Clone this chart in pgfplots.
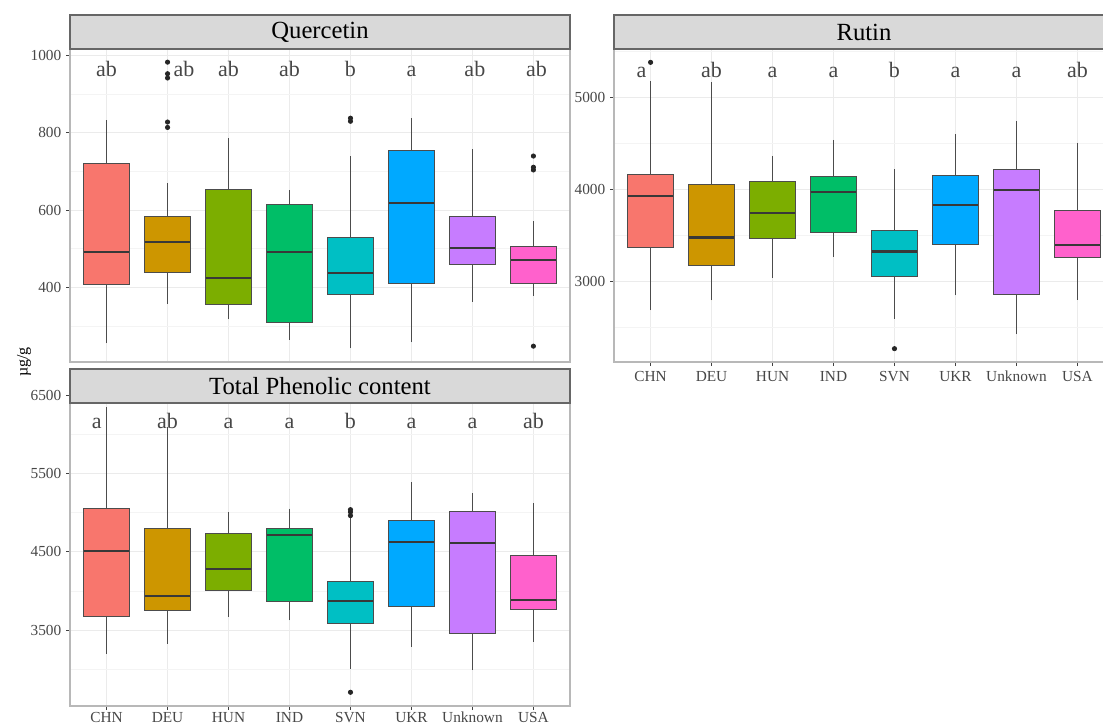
\documentclass[border=0pt]{standalone}
\usepackage{fontspec}
\setmainfont{Liberation Serif}
\usepackage{pgfplots}
\pgfplotsset{compat=1.18}
\usepgfplotslibrary{statistics}
\definecolor{c1}{HTML}{F8766D}
\definecolor{c2}{HTML}{CD9600}
\definecolor{c3}{HTML}{7CAE00}
\definecolor{c4}{HTML}{00BE67}
\definecolor{c5}{HTML}{00BFC4}
\definecolor{c6}{HTML}{00A9FF}
\definecolor{c7}{HTML}{C77CFF}
\definecolor{c8}{HTML}{FF61CC}
\definecolor{gridmaj}{HTML}{EBEBEB}
\definecolor{gridmin}{HTML}{F4F4F4}
\tikzset{lt/.style={font=\fontsize{16.5}{18}\selectfont, text=black!72, anchor=base}}
\pgfplotsset{
  facet/.style={
    scale only axis, width=375pt,
    xmin=0.4, xmax=8.6,
    xtick={1,2,3,4,5,6,7,8},
    xmajorgrids, ymajorgrids, yminorgrids,
    major grid style={draw=gridmaj, line width=0.8pt},
    minor grid style={draw=gridmin, line width=0.5pt},
    minor tick length=0pt,
    axis line style={draw=black!28, line width=0.8pt},
    tick align=outside, tick pos=left, major tick length=3pt,
    every tick/.style={draw=black!75, line width=0.6pt},
    tick label style={font=\fontsize{11.5}{13}\selectfont, text=black!72},
    xticklabel style={text height=8pt, text depth=0pt},
    /pgf/number format/1000 sep={}, /pgf/number format/assume math mode=true,
    scaled y ticks=false,
    every axis title/.style={at={(0.5,1)}, anchor=south, fill=black!15, draw=black!60,
      line width=0.8pt, minimum width=375pt, minimum height=25.5pt, inner sep=0pt,
      outer sep=0pt, font=\fontsize{18.5}{20}\selectfont, text=black},
    boxplot/draw direction=y,
    boxplot/box extend=0.75, boxplot/whisker extend=0,
    boxplot/every median/.style={line width=1.6pt, draw=black!78},
    boxplot/every whisker/.style={draw=black!70, line width=0.6pt},
  },
  bx/.style={fill=#1, draw=black!70, line width=0.6pt, mark=*, mark size=1.6pt,
    mark options={fill=black!85, draw=black!85, solid}},
}
\begin{document}
\begin{tikzpicture}
% Quercetin
\begin{axis}[facet, at={(52.5pt,-271.5pt)}, anchor=south west, height=234.75pt,
  ymin=207, ymax=1017, ytick={400,600,800,1000}, minor ytick={300,500,700,900},
  xticklabels={}, xtick style={draw=none}, title={Quercetin}]
\addplot[bx=c1, boxplot prepared={draw position=1, lower whisker=255, lower quartile=409, median=491, upper quartile=720, upper whisker=832}] coordinates {};
\addplot[bx=c2, boxplot prepared={draw position=2, lower whisker=357, lower quartile=440, median=517, upper quartile=583, upper whisker=670}] coordinates {(0,983) (0,953) (0,942) (0,828) (0,814)};
\addplot[bx=c3, boxplot prepared={draw position=3, lower whisker=317, lower quartile=357, median=424, upper quartile=654, upper whisker=786}] coordinates {};
\addplot[bx=c4, boxplot prepared={draw position=4, lower whisker=264, lower quartile=309, median=491, upper quartile=616, upper whisker=652}] coordinates {};
\addplot[bx=c5, boxplot prepared={draw position=5, lower whisker=242, lower quartile=381, median=438, upper quartile=529, upper whisker=739}] coordinates {(0,838) (0,830)};
\addplot[bx=c6, boxplot prepared={draw position=6, lower whisker=258, lower quartile=410, median=619, upper quartile=754, upper whisker=838}] coordinates {};
\addplot[bx=c7, boxplot prepared={draw position=7, lower whisker=363, lower quartile=460, median=502, upper quartile=584, upper whisker=757}] coordinates {};
\addplot[bx=c8, boxplot prepared={draw position=8, lower whisker=379, lower quartile=410, median=470, upper quartile=507, upper whisker=571}] coordinates {(0,740) (0,711) (0,704) (0,248)};
\node[lt] at (axis cs:1,945) {ab};
\node[lt] at (axis cs:2.27,945) {ab};
\node[lt] at (axis cs:3,945) {ab};
\node[lt] at (axis cs:4,945) {ab};
\node[lt] at (axis cs:5,945) {b};
\node[lt] at (axis cs:6,945) {a};
\node[lt] at (axis cs:7.04,945) {ab};
\node[lt] at (axis cs:8.05,945) {ab};
\end{axis}
% Rutin
\begin{axis}[facet, at={(460.5pt,-271.5pt)}, anchor=south west, height=234.75pt,
  ymin=2122, ymax=5523, ytick={3000,4000,5000}, minor ytick={2500,3500,4500,5500},
  xticklabels={CHN,DEU,HUN,IND,SVN,UKR,Unknown,USA}, title={Rutin}]
\addplot[bx=c1, boxplot prepared={draw position=1, lower whisker=2684, lower quartile=3370, median=3929, upper quartile=4158, upper whisker=5171}] coordinates {(0,5378)};
\addplot[bx=c2, boxplot prepared={draw position=2, lower whisker=2793, lower quartile=3167, median=3475, upper quartile=4056, upper whisker=5160}] coordinates {};
\addplot[bx=c3, boxplot prepared={draw position=3, lower whisker=3040, lower quartile=3468, median=3744, upper quartile=4089, upper whisker=4361}] coordinates {};
\addplot[bx=c4, boxplot prepared={draw position=4, lower whisker=3265, lower quartile=3526, median=3965, upper quartile=4143, upper whisker=4535}] coordinates {};
\addplot[bx=c5, boxplot prepared={draw position=5, lower whisker=2593, lower quartile=3054, median=3323, upper quartile=3552, upper whisker=4216}] coordinates {(0,2267)};
\addplot[bx=c6, boxplot prepared={draw position=6, lower whisker=2847, lower quartile=3399, median=3824, upper quartile=4147, upper whisker=4597}] coordinates {};
\addplot[bx=c7, boxplot prepared={draw position=7, lower whisker=2423, lower quartile=2862, median=3991, upper quartile=4220, upper whisker=4746}] coordinates {};
\addplot[bx=c8, boxplot prepared={draw position=8, lower whisker=2800, lower quartile=3261, median=3396, upper quartile=3773, upper whisker=4506}] coordinates {};
\node[lt] at (axis cs:0.85,5218) {a};
\node[lt] at (axis cs:2,5218) {ab};
\node[lt] at (axis cs:3,5218) {a};
\node[lt] at (axis cs:4,5218) {a};
\node[lt] at (axis cs:5,5218) {b};
\node[lt] at (axis cs:6,5218) {a};
\node[lt] at (axis cs:7,5218) {a};
\node[lt] at (axis cs:8,5218) {ab};
\end{axis}
% Total Phenolic content
\begin{axis}[facet, at={(52.5pt,-529.5pt)}, anchor=south west, height=233.25pt,
  ymin=2534, ymax=6500, ytick={3500,4500,5500,6500}, minor ytick={3000,4000,5000,6000},
  xticklabels={CHN,DEU,HUN,IND,SVN,UKR,Unknown,USA},
  xticklabel style={yshift=2.5pt},
  title={Total Phenolic content}, title style={yshift=-6pt}]
\addplot[bx=c1, boxplot prepared={draw position=1, lower whisker=3202, lower quartile=3674, median=4511, upper quartile=5051, upper whisker=6347}] coordinates {};
\addplot[bx=c2, boxplot prepared={draw position=2, lower whisker=3330, lower quartile=3755, median=3937, upper quartile=4800, upper whisker=6092}] coordinates {};
\addplot[bx=c3, boxplot prepared={draw position=3, lower whisker=3670, lower quartile=4010, median=4277, upper quartile=4741, upper whisker=5008}] coordinates {};
\addplot[bx=c4, boxplot prepared={draw position=4, lower whisker=3627, lower quartile=3865, median=4715, upper quartile=4796, upper whisker=5051}] coordinates {};
\addplot[bx=c5, boxplot prepared={draw position=5, lower whisker=3002, lower quartile=3585, median=3878, upper quartile=4129, upper whisker=4930}] coordinates {(0,5038) (0,5008) (0,4962) (0,2709)};
\addplot[bx=c6, boxplot prepared={draw position=6, lower whisker=3287, lower quartile=3806, median=4622, upper quartile=4902, upper whisker=5386}] coordinates {};
\addplot[bx=c7, boxplot prepared={draw position=7, lower whisker=2990, lower quartile=3466, median=4613, upper quartile=5012, upper whisker=5250}] coordinates {};
\addplot[bx=c8, boxplot prepared={draw position=8, lower whisker=3351, lower quartile=3767, median=3886, upper quartile=4452, upper whisker=5123}] coordinates {};
\node[lt] at (axis cs:0.84,6071) {a};
\node[lt] at (axis cs:2,6071) {ab};
\node[lt] at (axis cs:3,6071) {a};
\node[lt] at (axis cs:4,6071) {a};
\node[lt] at (axis cs:5,6071) {b};
\node[lt] at (axis cs:6,6071) {a};
\node[lt] at (axis cs:7,6071) {a};
\node[lt] at (axis cs:8,6071) {ab};
\end{axis}
\node[rotate=90, font=\fontsize{12}{14}\selectfont] at (18pt,-271.5pt) {µg/g};
\pgfresetboundingbox
\useasboundingbox (0pt,0pt) rectangle (827.25pt,-543pt);
\end{tikzpicture}
\end{document}
